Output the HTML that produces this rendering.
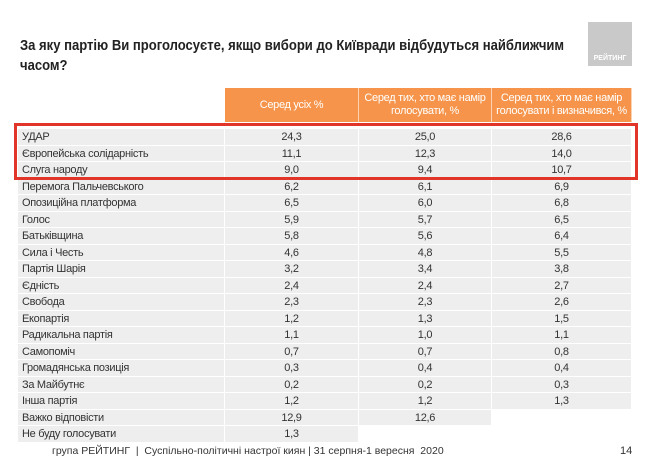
<!DOCTYPE html>
<html><head><meta charset="utf-8"><style>
body{margin:0;width:650px;height:465px;background:#fff;overflow:hidden;position:relative;font-family:"Liberation Sans","DejaVu Sans",sans-serif}
.abs{position:absolute}
#title{left:20px;top:36px;font-size:15px;font-weight:bold;color:#222;line-height:20px;transform:scaleX(0.87);transform-origin:left top;width:650px}
#logo{left:588px;top:22px;width:44px;height:44px;background:#c9c9c9;color:#fff;font-size:7px;font-weight:bold;text-align:center;box-sizing:border-box;padding-top:33px}
.hd{top:88px;height:34px;background:#f5944a;color:#fff;font-size:11px;letter-spacing:-0.3px;display:flex;align-items:center;justify-content:center;text-align:center;line-height:13px;border-right:1px solid #fbd3b3;box-sizing:border-box}
.cell{height:16.5px;line-height:16.5px;font-size:11px;letter-spacing:-0.3px;color:#333;box-sizing:border-box;border-bottom:1px solid #fff;border-right:1px solid #fff}
.g{background:#eeeeee}
#redbox{left:14px;top:123px;width:624px;height:57px;border:3px solid #e2352a;box-sizing:border-box}
#footer{left:52px;top:445px;font-size:10.5px;color:#333}
#pg{left:620px;top:445px;font-size:11px;color:#333}
</style></head><body>
<div class="abs" id="title">За яку партію Ви проголосуєте, якщо вибори до Київради відбудуться найближчим<br>часом?</div>
<div class="abs" id="logo">РЕЙТИНГ</div>
<div class="abs hd" style="left:225px;width:134px">Серед усіх %</div>
<div class="abs hd" style="left:359px;width:133px">Серед тих, хто має намір<br>голосувати, %</div>
<div class="abs hd" style="left:492px;width:140px">Серед тих, хто має намір<br>голосувати і визначився, %</div>
<div id="rows"></div>
<div class="abs" id="redbox"></div>
<div class="abs" id="footer">група РЕЙТИНГ &nbsp;|&nbsp; Суспільно-політичні настрої киян | 31 серпня-1 вересня &nbsp;2020</div>
<div class="abs" id="pg">14</div>
<script>
const parties=["УДАР","Європейська солідарність","Слуга народу","Перемога Пальчевського","Опозиційна платформа","Голос","Батьківщина","Сила і Честь","Партія Шарія","Єдність","Свобода","Екопартія","Радикальна партія","Самопоміч","Громадянська позиція","За Майбутнє","Інша партія","Важко відповісти","Не буду голосувати"];
const colAll=["24,3","11,1","9,0","6,2","6,5","5,9","5,8","4,6","3,2","2,4","2,3","1,2","1,1","0,7","0,3","0,2","1,2","12,9","1,3"];
const colIntend=["25,0","12,3","9,4","6,1","6,0","5,7","5,6","4,8","3,4","2,4","2,3","1,3","1,0","0,7","0,4","0,2","1,2","12,6",""];
const colDecided=["28,6","14,0","10,7","6,9","6,8","6,5","6,4","5,5","3,8","2,7","2,6","1,5","1,1","0,8","0,4","0,3","1,3","",""];
const cols=[{x:18,w:207,a:"left"},{x:225,w:134,a:"center"},{x:359,w:133,a:"center"},{x:492,w:140,a:"center"}];
const wrap=document.getElementById('rows');
parties.forEach((p,i)=>{
  const vals=[p,colAll[i],colIntend[i],colDecided[i]];
  vals.forEach((v,j)=>{
    const hasCol = j===0 || v!=="" ;
    if(!hasCol) return;
    const d=document.createElement('div');
    d.className='abs cell g';
    
    
    d.style.left=cols[j].x+'px';d.style.width=cols[j].w+'px';
    d.style.top=(129+i*16.5)+'px';d.style.textAlign=cols[j].a;
    if(j===0)d.style.paddingLeft='4px';
    d.textContent=v;
    wrap.appendChild(d);
  });
});
</script>
</body></html>
